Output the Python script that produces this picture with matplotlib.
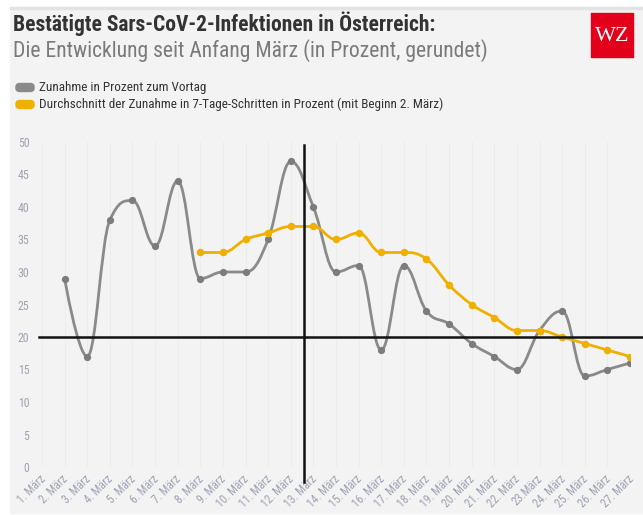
#!/usr/bin/env python3
# -*- coding: utf-8 -*-

import matplotlib
matplotlib.use('Agg')
import matplotlib.pyplot as plt
from matplotlib import font_manager
from matplotlib.path import Path
from matplotlib.patches import PathPatch, Rectangle, FancyBboxPatch
from matplotlib.transforms import ScaledTranslation

############## Data ##############
days = ['1. März', '2. März', '3. März', '4. März', '5. März', '6. März', '7. März',
        '8. März', '9. März', '10. März', '11. März', '12. März', '13. März', '14. März',
        '15. März', '16. März', '17. März', '18. März', '19. März', '20. März', '21. März',
        '22. März', '23.März', '24. März', '25. März', '26. März', '27. März']
# daily increase in percent, from 2. März
daily_start = 1
daily = [29, 17, 38, 41, 34, 44, 29, 30, 30, 35, 47, 40, 30, 31, 18, 31, 24, 22,
         19, 17, 15, 21, 24, 14, 15, 16]
# 7-day average, from 8. März
avg_start = 7
avg7 = [33, 33, 35, 36, 37, 37, 35, 36, 33, 33, 32, 28, 25, 23, 21, 21, 20, 19, 18, 17]
ref_y = 20      # horizontal marker line
ref_x = 11.58   # vertical marker line (between 12. and 13. März)
#############################################

W, H = 643, 515
BG = '#f3f3f3'
GREY = '#8a8a8a'
YELLOW = '#f0b000'
TICK_C = '#9ea2b3'


def pick_font(cands):
    for name in cands:
        try:
            font_manager.findfont(font_manager.FontProperties(family=name),
                                  fallback_to_default=False)
            return name
        except Exception:
            pass
    return 'DejaVu Sans'


COND = pick_font(['Roboto Condensed', 'Liberation Sans Narrow', 'Roboto'])
SERIF = pick_font(['Liberation Serif', 'DejaVu Serif'])
plt.rcParams['font.family'] = [COND, 'DejaVu Sans']


def fx(px):
    return px / W


def fy(py):
    return 1 - py / H


def spline_path(xs, ys):
    # Highcharts-like spline (smoothing 1.5)
    n = len(xs)
    right = [None] * n
    verts = [(xs[0], ys[0])]
    codes = [Path.MOVETO]
    for i in range(1, n):
        x, y = xs[i], ys[i]
        lx, ly = xs[i - 1], ys[i - 1]
        lcx, lcy = x, y
        if i < n - 1:
            nx, ny = xs[i + 1], ys[i + 1]
            lcx = (1.5 * x + lx) / 2.5
            lcy = (1.5 * y + ly) / 2.5
            rcx = (1.5 * x + nx) / 2.5
            rcy = (1.5 * y + ny) / 2.5
            corr = (rcy - lcy) * (rcx - x) / (rcx - lcx) + y - rcy
            lcy += corr
            rcy += corr
            if lcy > ly and lcy > y:
                lcy = max(ly, y)
                rcy = 2 * y - lcy
            elif lcy < ly and lcy < y:
                lcy = min(ly, y)
                rcy = 2 * y - lcy
            if rcy > ny and rcy > y:
                rcy = max(ny, y)
                lcy = 2 * y - rcy
            elif rcy < ny and rcy < y:
                rcy = min(ny, y)
                lcy = 2 * y - rcy
            right[i] = (rcx, rcy)
        p0 = right[i - 1] if right[i - 1] is not None else (lx, ly)
        verts += [p0, (lcx, lcy), (x, y)]
        codes += [Path.CURVE4] * 3
    return Path(verts, codes)


fig = plt.figure(figsize=(W / 100, H / 100), dpi=100, facecolor='white')

# panel background and top rule
fig.patches.append(Rectangle((fx(10), fy(513)), fx(633), (506) / H,
                             transform=fig.transFigure, color=BG, zorder=-10))
fig.patches.append(Rectangle((fx(10), fy(9)), fx(633), 2 / H,
                             transform=fig.transFigure, color='#e3e3e3', zorder=-9))

# title block
fig.text(fx(13), fy(31), 'Bestätigte Sars-CoV-2-Infektionen in Österreich:',
         fontsize=15.5, fontweight='bold', color='#333333', va='baseline')
fig.text(fx(13), fy(57), 'Die Entwicklung seit Anfang März (in Prozent, gerundet)',
         fontsize=15.6, color='#7a7a7a', va='baseline')

# logo
fig.patches.append(Rectangle((fx(591), fy(57)), 42 / W, 44 / H,
                             transform=fig.transFigure, color='#e2001a'))
fig.text(fx(612), fy(36), 'WZ', family=SERIF, fontsize=16, color='white',
         ha='center', va='center')

# legend
for row, (lab, col) in enumerate([('Zunahme in Prozent zum Vortag', GREY),
                                  ('Durchschnitt der Zunahme in 7-Tage-Schritten in Prozent (mit Beginn 2. März)', YELLOW)]):
    yc = 87.5 + row * 17
    fig.patches.append(FancyBboxPatch((fx(16), fy(yc + 4)), 18 / W, 8 / H,
                                      boxstyle='round,pad=0,rounding_size=0.006',
                                      transform=fig.transFigure, color=col))
    fig.text(fx(39), fy(yc), lab, fontsize=9.5, color='#333333', va='center')

# plot area
ax = fig.add_axes([fx(42), fy(467), (630 - 42) / W, (467 - 142) / H])
ax.set_facecolor('none')
ax.set_xlim(0, len(days) - 1)
ax.set_ylim(0, 50)

dx = list(range(daily_start, daily_start + len(daily)))
ax.add_patch(PathPatch(spline_path(dx, daily), fill=False, ec=GREY, lw=2.0, zorder=3))
ax.plot(dx, daily, 'o', color='#7c7c7c', ms=4.2, zorder=4)

axx = list(range(avg_start, avg_start + len(avg7)))
ax.add_patch(PathPatch(spline_path(axx, avg7), fill=False, ec=YELLOW, lw=2.0, zorder=5))
ax.plot(axx, avg7, 'o', color=YELLOW, ms=4.4, zorder=6)

# faint grid on categories
for i in range(len(days)):
    ax.axvline(i, color='#ebebeb', lw=0.6, zorder=0)
ax.axhline(0, color='#e8e8e8', lw=0.8, zorder=0)

for s in ax.spines.values():
    s.set_visible(False)

ax.set_yticks(range(0, 51, 5))
ax.tick_params(axis='y', length=0, pad=9, labelsize=8.6, labelcolor=TICK_C)
ax.set_xticks(range(len(days)))
ax.set_xticklabels(days, rotation=45, ha='right', va='top')
ax.tick_params(axis='x', length=0, pad=4, labelsize=8.4, labelcolor=TICK_C)
off = ScaledTranslation(6 / 100, 0, fig.dpi_scale_trans)
for t in ax.get_xticklabels():
    t.set_transform(t.get_transform() + off)

# black marker lines (drawn past the plot edges like the original)
ax.plot([(39 - 42) / 22.615, (643 - 42) / 22.615], [ref_y, ref_y],
        color='#111111', lw=1.8, clip_on=False, zorder=7)
ax.plot([ref_x, ref_x], [-15 / 6.5, (467 - 145) / 6.5],
        color='#111111', lw=1.8, clip_on=False, zorder=7)

fig.savefig('out.png', dpi=100, facecolor=fig.get_facecolor())
